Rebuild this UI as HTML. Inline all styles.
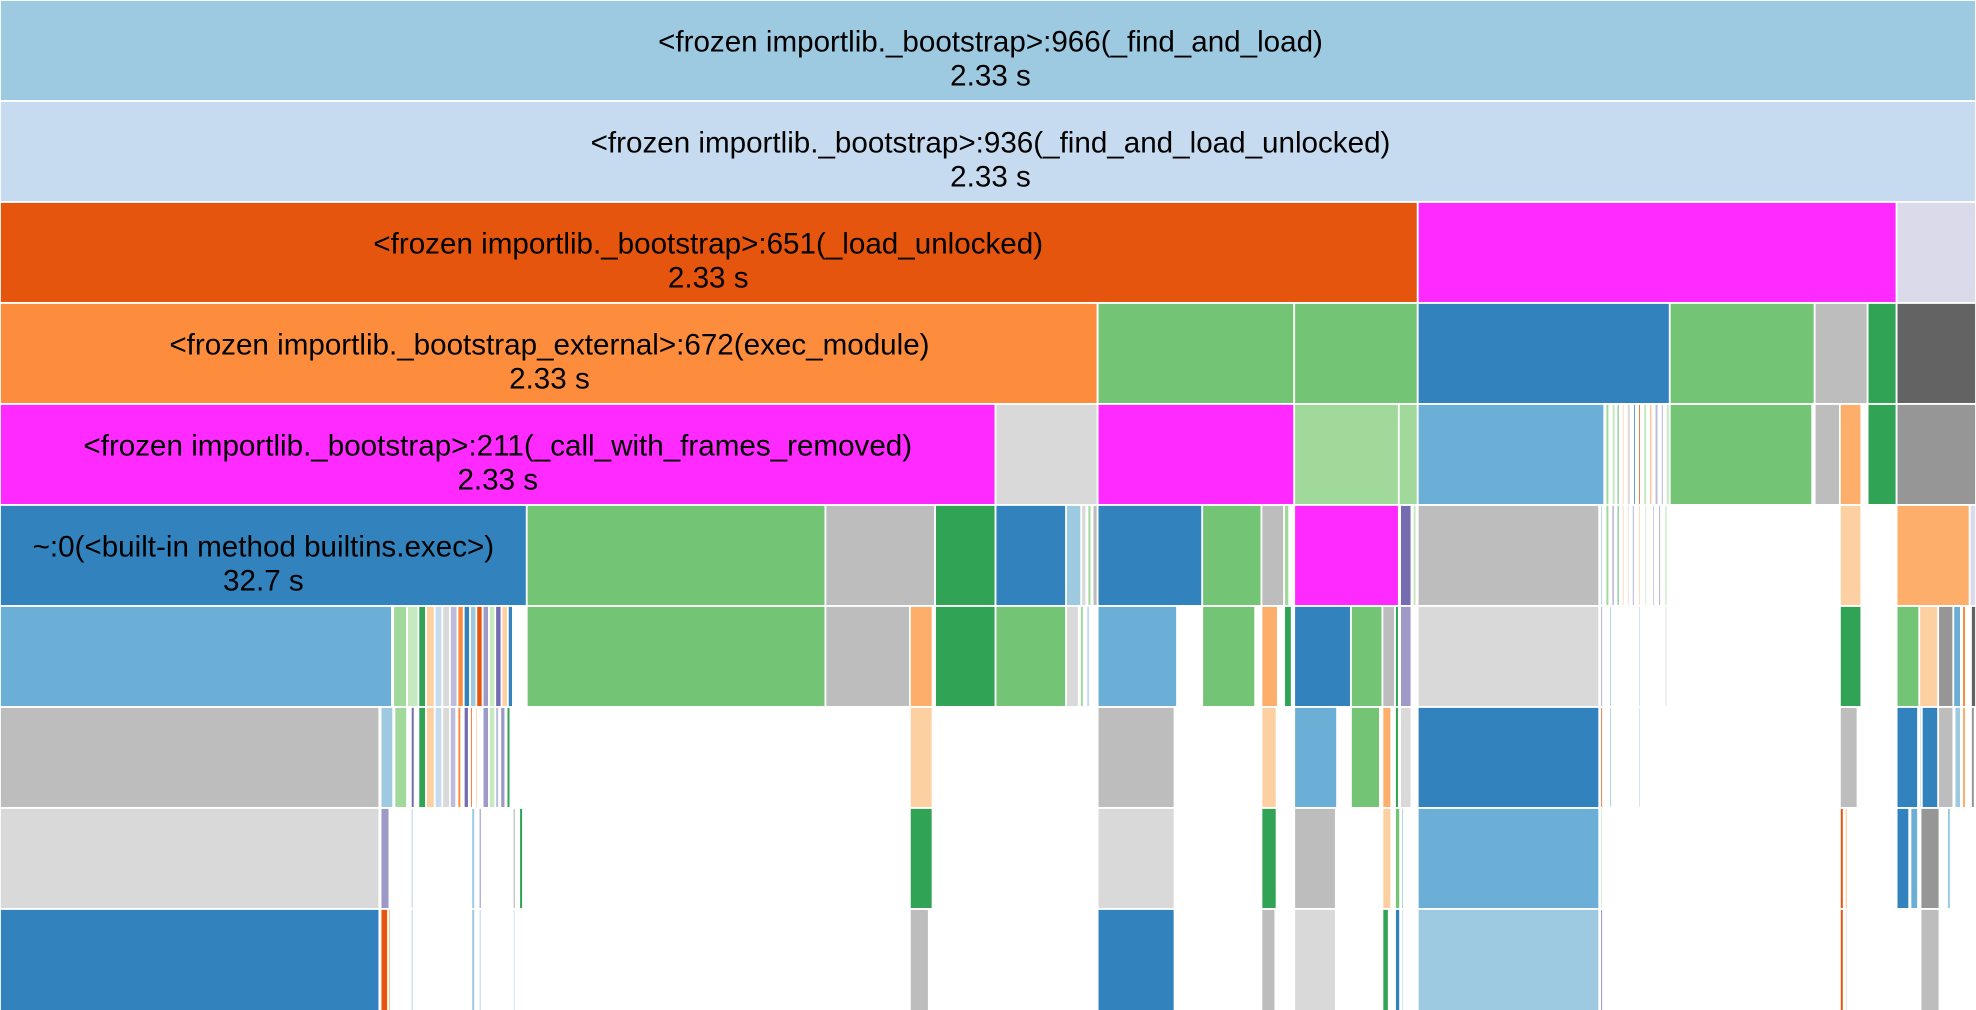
<!DOCTYPE html>
<html><head><meta charset="utf-8"><style>
html,body{margin:0;padding:0;background:#fff;width:1976px;height:1010px;overflow:hidden}
svg{display:block}
text{font-family:"Liberation Sans",Arial,sans-serif;font-size:23.5px;fill:#000;text-anchor:middle}
rect{stroke:#fff;stroke-width:1.4}
</style></head><body>
<svg width="1976" height="1010" viewBox="0 0 1568 801" preserveAspectRatio="none" xmlns="http://www.w3.org/2000/svg">
<g transform="translate(0,0)">
<rect x="0" y="0" width="1568" height="80" fill="#9ecae1"/>
<text x="786" y="41">&lt;frozen importlib._bootstrap&gt;:966(_find_and_load)</text>
<text x="786" y="68">2.33 s</text>
</g>
<g transform="translate(0,80.1)">
<rect x="0" y="0" width="1568" height="80" fill="#c6dbef"/>
<text x="786" y="41">&lt;frozen importlib._bootstrap&gt;:936(_find_and_load_unlocked)</text>
<text x="786" y="68">2.33 s</text>
</g>
<g transform="translate(0,160.2)">
<rect x="0" y="0" width="1125" height="80" fill="#e6550d"/>
<rect x="1125" y="0" width="380" height="80" fill="#ff2aff"/>
<rect x="1505" y="0" width="63" height="80" fill="#dadaeb"/>
<text x="562" y="41">&lt;frozen importlib._bootstrap&gt;:651(_load_unlocked)</text>
<text x="562" y="68">2.33 s</text>
</g>
<g transform="translate(0,240.3)">
<rect x="0" y="0" width="871" height="80" fill="#fd8d3c"/>
<rect x="871" y="0" width="156" height="80" fill="#74c476"/>
<rect x="1027" y="0" width="98" height="80" fill="#74c476"/>
<rect x="1125" y="0" width="200" height="80" fill="#3182bd"/>
<rect x="1325" y="0" width="115" height="80" fill="#74c476"/>
<rect x="1440" y="0" width="42" height="80" fill="#bdbdbd"/>
<rect x="1482" y="0" width="23" height="80" fill="#31a354"/>
<rect x="1505" y="0" width="63" height="80" fill="#636363"/>
<text x="436" y="41">&lt;frozen importlib._bootstrap_external&gt;:672(exec_module)</text>
<text x="436" y="68">2.33 s</text>
</g>
<g transform="translate(0,320.4)">
<rect x="0" y="0" width="790" height="80" fill="#ff2aff"/>
<rect x="790" y="0" width="81" height="80" fill="#d9d9d9"/>
<rect x="871" y="0" width="156" height="80" fill="#ff2aff"/>
<rect x="1027" y="0" width="83" height="80" fill="#a1d99b"/>
<rect x="1110" y="0" width="15" height="80" fill="#a1d99b"/>
<rect x="1125" y="0" width="148" height="80" fill="#6baed6"/>
<rect x="1274" y="0" width="3" height="80" fill="#a1d99b"/>
<rect x="1279" y="0" width="3" height="80" fill="#c7e9c0"/>
<rect x="1283" y="0" width="2" height="80" fill="#31a354"/>
<rect x="1287" y="0" width="2" height="80" fill="#fdd0a2"/>
<rect x="1291" y="0" width="3" height="80" fill="#d9d9d9"/>
<rect x="1296" y="0" width="2" height="80" fill="#3182bd"/>
<rect x="1300" y="0" width="2" height="80" fill="#e6550d"/>
<rect x="1304" y="0" width="3" height="80" fill="#c7e9c0"/>
<rect x="1309" y="0" width="2" height="80" fill="#fd8d3c"/>
<rect x="1313" y="0" width="3" height="80" fill="#bcbddc"/>
<rect x="1318" y="0" width="2" height="80" fill="#9e9ac8"/>
<rect x="1322" y="0" width="3" height="80" fill="#c7e9c0"/>
<rect x="1325" y="0" width="113" height="80" fill="#74c476"/>
<rect x="1440" y="0" width="20" height="80" fill="#bdbdbd"/>
<rect x="1460" y="0" width="17" height="80" fill="#fdae6b"/>
<rect x="1482" y="0" width="23" height="80" fill="#31a354"/>
<rect x="1505" y="0" width="63" height="80" fill="#969696"/>
<text x="395" y="41">&lt;frozen importlib._bootstrap&gt;:211(_call_with_frames_removed)</text>
<text x="395" y="68">2.33 s</text>
</g>
<g transform="translate(0,400.5)">
<rect x="0" y="0" width="418" height="80" fill="#3182bd"/>
<rect x="418" y="0" width="237" height="80" fill="#74c476"/>
<rect x="655" y="0" width="87" height="80" fill="#bdbdbd"/>
<rect x="742" y="0" width="48" height="80" fill="#31a354"/>
<rect x="790" y="0" width="56" height="80" fill="#3182bd"/>
<rect x="846" y="0" width="12" height="80" fill="#9ecae1"/>
<rect x="858" y="0" width="4" height="80" fill="#d9d9d9"/>
<rect x="863" y="0" width="3" height="80" fill="#a1d99b"/>
<rect x="867" y="0" width="4" height="80" fill="#bdbdbd"/>
<rect x="871" y="0" width="83" height="80" fill="#3182bd"/>
<rect x="954" y="0" width="47" height="80" fill="#74c476"/>
<rect x="1001" y="0" width="18" height="80" fill="#bdbdbd"/>
<rect x="1019" y="0" width="4" height="80" fill="#a1d99b"/>
<rect x="1027" y="0" width="83" height="80" fill="#ff2aff"/>
<rect x="1111" y="0" width="9" height="80" fill="#756bb1"/>
<rect x="1121" y="0" width="3" height="80" fill="#c7e9c0"/>
<rect x="1125" y="0" width="144" height="80" fill="#bdbdbd"/>
<rect x="1270" y="0" width="2" height="80" fill="#9ecae1"/>
<rect x="1274" y="0" width="3" height="80" fill="#a1d99b"/>
<rect x="1279" y="0" width="2" height="80" fill="#756bb1"/>
<rect x="1283" y="0" width="2" height="80" fill="#31a354"/>
<rect x="1287" y="0" width="2" height="80" fill="#fdd0a2"/>
<rect x="1291" y="0" width="2" height="80" fill="#d9d9d9"/>
<rect x="1295" y="0" width="2" height="80" fill="#9e9ac8"/>
<rect x="1300" y="0" width="2" height="80" fill="#fdd0a2"/>
<rect x="1305" y="0" width="2" height="80" fill="#c7e9c0"/>
<rect x="1311" y="0" width="2" height="80" fill="#bcbddc"/>
<rect x="1316" y="0" width="2" height="80" fill="#9e9ac8"/>
<rect x="1321" y="0" width="2" height="80" fill="#a1d99b"/>
<rect x="1460" y="0" width="17" height="80" fill="#fdd0a2"/>
<rect x="1505" y="0" width="58" height="80" fill="#fdae6b"/>
<rect x="1563" y="0" width="5" height="80" fill="#dadaeb"/>
<text x="209" y="41">~:0(&lt;built-in method builtins.exec&gt;)</text>
<text x="209" y="68">32.7 s</text>
</g>
<g transform="translate(0,480.6)">
<rect x="0" y="0" width="311" height="80" fill="#6baed6"/>
<rect x="312" y="0" width="11" height="80" fill="#a1d99b"/>
<rect x="323" y="0" width="9" height="80" fill="#c7e9c0"/>
<rect x="332" y="0" width="6" height="80" fill="#31a354"/>
<rect x="338" y="0" width="7" height="80" fill="#fdd0a2"/>
<rect x="345" y="0" width="6" height="80" fill="#c6dbef"/>
<rect x="351" y="0" width="6" height="80" fill="#d9d9d9"/>
<rect x="357" y="0" width="6" height="80" fill="#bcbddc"/>
<rect x="363" y="0" width="5" height="80" fill="#fd8d3c"/>
<rect x="368" y="0" width="5" height="80" fill="#3182bd"/>
<rect x="373" y="0" width="5" height="80" fill="#9ecae1"/>
<rect x="378" y="0" width="5" height="80" fill="#e6550d"/>
<rect x="383" y="0" width="5" height="80" fill="#9e9ac8"/>
<rect x="388" y="0" width="5" height="80" fill="#c7e9c0"/>
<rect x="393" y="0" width="5" height="80" fill="#756bb1"/>
<rect x="398" y="0" width="5" height="80" fill="#fdd0a2"/>
<rect x="403" y="0" width="4" height="80" fill="#3182bd"/>
<rect x="418" y="0" width="237" height="80" fill="#74c476"/>
<rect x="655" y="0" width="67" height="80" fill="#bdbdbd"/>
<rect x="722" y="0" width="18" height="80" fill="#fdae6b"/>
<rect x="742" y="0" width="48" height="80" fill="#31a354"/>
<rect x="790" y="0" width="56" height="80" fill="#74c476"/>
<rect x="846" y="0" width="10" height="80" fill="#d9d9d9"/>
<rect x="857" y="0" width="3" height="80" fill="#a1d99b"/>
<rect x="862" y="0" width="3" height="80" fill="#c6dbef"/>
<rect x="871" y="0" width="63" height="80" fill="#6baed6"/>
<rect x="954" y="0" width="42" height="80" fill="#74c476"/>
<rect x="1001" y="0" width="13" height="80" fill="#fdae6b"/>
<rect x="1019" y="0" width="6" height="80" fill="#31a354"/>
<rect x="1027" y="0" width="45" height="80" fill="#3182bd"/>
<rect x="1072" y="0" width="25" height="80" fill="#74c476"/>
<rect x="1097" y="0" width="10" height="80" fill="#bdbdbd"/>
<rect x="1107" y="0" width="3" height="80" fill="#31a354"/>
<rect x="1111" y="0" width="9" height="80" fill="#9e9ac8"/>
<rect x="1125" y="0" width="144" height="80" fill="#d9d9d9"/>
<rect x="1270" y="0" width="2" height="80" fill="#9e9ac8"/>
<rect x="1277" y="0" width="2" height="80" fill="#9ecae1"/>
<rect x="1300" y="0" width="2" height="80" fill="#c6dbef"/>
<rect x="1321" y="0" width="2" height="80" fill="#d9d9d9"/>
<rect x="1460" y="0" width="17" height="80" fill="#31a354"/>
<rect x="1505" y="0" width="18" height="80" fill="#74c476"/>
<rect x="1523" y="0" width="15" height="80" fill="#fdd0a2"/>
<rect x="1538" y="0" width="12" height="80" fill="#969696"/>
<rect x="1550" y="0" width="6" height="80" fill="#6baed6"/>
<rect x="1557" y="0" width="3" height="80" fill="#fd8d3c"/>
<rect x="1564" y="0" width="4" height="80" fill="#636363"/>
</g>
<g transform="translate(0,560.7)">
<rect x="0" y="0" width="301" height="80" fill="#bdbdbd"/>
<rect x="302" y="0" width="10" height="80" fill="#9ecae1"/>
<rect x="313" y="0" width="10" height="80" fill="#a1d99b"/>
<rect x="326" y="0" width="3" height="80" fill="#756bb1"/>
<rect x="332" y="0" width="6" height="80" fill="#31a354"/>
<rect x="338" y="0" width="7" height="80" fill="#fdd0a2"/>
<rect x="345" y="0" width="6" height="80" fill="#c6dbef"/>
<rect x="351" y="0" width="6" height="80" fill="#d9d9d9"/>
<rect x="357" y="0" width="5" height="80" fill="#bcbddc"/>
<rect x="363" y="0" width="3" height="80" fill="#fd8d3c"/>
<rect x="368" y="0" width="4" height="80" fill="#756bb1"/>
<rect x="373" y="0" width="2" height="80" fill="#e6550d"/>
<rect x="377" y="0" width="2" height="80" fill="#fdd0a2"/>
<rect x="383" y="0" width="5" height="80" fill="#9e9ac8"/>
<rect x="388" y="0" width="5" height="80" fill="#c7e9c0"/>
<rect x="393" y="0" width="3" height="80" fill="#bcbddc"/>
<rect x="397" y="0" width="4" height="80" fill="#9e9ac8"/>
<rect x="402" y="0" width="3" height="80" fill="#31a354"/>
<rect x="722" y="0" width="18" height="80" fill="#fdd0a2"/>
<rect x="871" y="0" width="61" height="80" fill="#bdbdbd"/>
<rect x="1001" y="0" width="12" height="80" fill="#fdd0a2"/>
<rect x="1027" y="0" width="34" height="80" fill="#6baed6"/>
<rect x="1072" y="0" width="23" height="80" fill="#74c476"/>
<rect x="1097" y="0" width="7" height="80" fill="#fdae6b"/>
<rect x="1107" y="0" width="3" height="80" fill="#31a354"/>
<rect x="1111" y="0" width="9" height="80" fill="#d9d9d9"/>
<rect x="1125" y="0" width="144" height="80" fill="#3182bd"/>
<rect x="1270" y="0" width="2" height="80" fill="#e6550d"/>
<rect x="1277" y="0" width="2" height="80" fill="#9ecae1"/>
<rect x="1300" y="0" width="2" height="80" fill="#c6dbef"/>
<rect x="1460" y="0" width="14" height="80" fill="#bdbdbd"/>
<rect x="1505" y="0" width="17" height="80" fill="#3182bd"/>
<rect x="1523" y="0" width="2" height="80" fill="#c6dbef"/>
<rect x="1525" y="0" width="13" height="80" fill="#3182bd"/>
<rect x="1538" y="0" width="12" height="80" fill="#bdbdbd"/>
<rect x="1551" y="0" width="5" height="80" fill="#9ecae1"/>
<rect x="1557" y="0" width="3" height="80" fill="#fdae6b"/>
<rect x="1564" y="0" width="3" height="80" fill="#969696"/>
</g>
<g transform="translate(0,640.8)">
<rect x="0" y="0" width="301" height="80" fill="#d9d9d9"/>
<rect x="302" y="0" width="7" height="80" fill="#9e9ac8"/>
<rect x="326" y="0" width="2" height="80" fill="#9ecae1"/>
<rect x="374" y="0" width="3" height="80" fill="#9ecae1"/>
<rect x="380" y="0" width="2" height="80" fill="#756bb1"/>
<rect x="385" y="0" width="1" height="80" fill="#fd8d3c"/>
<rect x="402" y="0" width="1" height="80" fill="#bdbdbd"/>
<rect x="407" y="0" width="2" height="80" fill="#969696"/>
<rect x="412" y="0" width="3" height="80" fill="#31a354"/>
<rect x="722" y="0" width="18" height="80" fill="#31a354"/>
<rect x="871" y="0" width="61" height="80" fill="#d9d9d9"/>
<rect x="1001" y="0" width="12" height="80" fill="#31a354"/>
<rect x="1027" y="0" width="33" height="80" fill="#bdbdbd"/>
<rect x="1097" y="0" width="7" height="80" fill="#fdd0a2"/>
<rect x="1107" y="0" width="4" height="80" fill="#74c476"/>
<rect x="1112" y="0" width="2" height="80" fill="#9ecae1"/>
<rect x="1125" y="0" width="144" height="80" fill="#6baed6"/>
<rect x="1270" y="0" width="2" height="80" fill="#c7e9c0"/>
<rect x="1460" y="0" width="3" height="80" fill="#e6550d"/>
<rect x="1464" y="0" width="2" height="80" fill="#fdae6b"/>
<rect x="1505" y="0" width="10" height="80" fill="#3182bd"/>
<rect x="1516" y="0" width="6" height="80" fill="#6baed6"/>
<rect x="1524" y="0" width="15" height="80" fill="#969696"/>
<rect x="1545" y="0" width="3" height="80" fill="#9ecae1"/>
</g>
<g transform="translate(0,720.9)">
<rect x="0" y="0" width="301" height="81" fill="#3182bd"/>
<rect x="302" y="0" width="6" height="81" fill="#e6550d"/>
<rect x="308" y="0" width="2" height="81" fill="#fdae6b"/>
<rect x="326" y="0" width="2" height="81" fill="#9ecae1"/>
<rect x="374" y="0" width="3" height="81" fill="#9ecae1"/>
<rect x="380" y="0" width="2" height="81" fill="#9ecae1"/>
<rect x="407" y="0" width="2" height="81" fill="#c6dbef"/>
<rect x="722" y="0" width="15" height="81" fill="#bdbdbd"/>
<rect x="871" y="0" width="61" height="81" fill="#3182bd"/>
<rect x="1001" y="0" width="11" height="81" fill="#bdbdbd"/>
<rect x="1027" y="0" width="33" height="81" fill="#d9d9d9"/>
<rect x="1097" y="0" width="5" height="81" fill="#31a354"/>
<rect x="1107" y="0" width="4" height="81" fill="#3182bd"/>
<rect x="1112" y="0" width="2" height="81" fill="#c6dbef"/>
<rect x="1125" y="0" width="144" height="81" fill="#9ecae1"/>
<rect x="1270" y="0" width="2" height="81" fill="#756bb1"/>
<rect x="1460" y="0" width="3" height="81" fill="#e6550d"/>
<rect x="1464" y="0" width="2" height="81" fill="#d9d9d9"/>
<rect x="1524" y="0" width="15" height="81" fill="#bdbdbd"/>
</g>
</svg>
</body></html>
